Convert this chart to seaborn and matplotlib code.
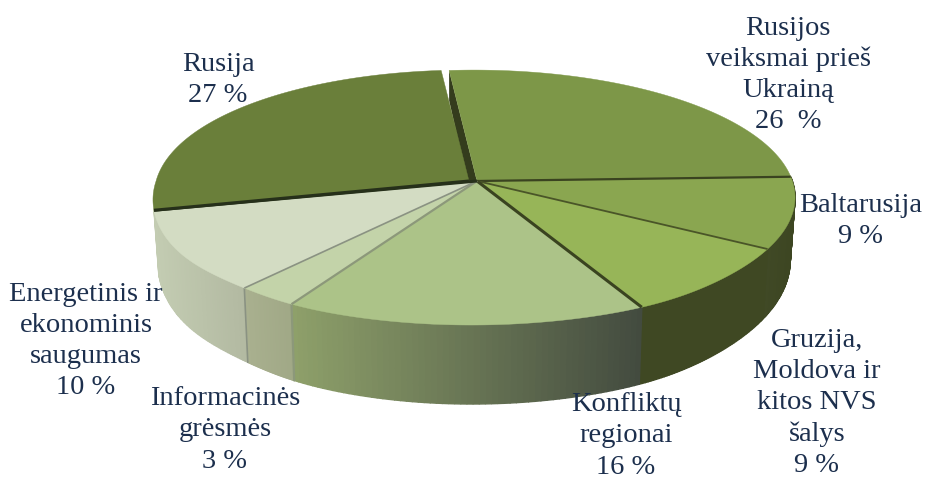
#!/usr/bin/env python3
"""3D-looking pie of threat shares, drawn on a pixel-sized matplotlib axes."""

import matplotlib

matplotlib.use("Agg")

import matplotlib.pyplot as plt
import numpy as np
import seaborn as sns

# ── Data ──────────────────────────────────────────────────────────────────

CATEGORIES = [
    "Rusijos\nveiksmai prieš\nUkrainą",
    "Baltarusija",
    "Gruzija,\nMoldova ir\nkitos NVS\nšalys",
    "Konfliktų\nregionai",
    "Informacinės\ngrėsmės",
    "Energetinis ir\nekonominis\nsaugumas",
    "Rusija",
]
VALUES = [26, 9, 9, 16, 3, 10, 27]
PERCENT_LABELS = ["26  %", "9 %", "9 %", "16 %", "3 %", "10 %", "27 %"]

# ── Style ─────────────────────────────────────────────────────────────────

TOP_COLORS = ["#7d9748", "#8aa650", "#97b558", "#acc388", "#c3d3a9", "#d3dcc3", "#6a7f3a"]
WALL_COLORS = [
    ("#3d4622", "#3d4622"),
    ("#404926", "#3d4622"),
    ("#3f4823", "#3f4823"),
    ("#8ea06a", "#434b3f"),
    ("#a9b08f", "#a0a886"),
    ("#c3ccb2", "#b2b9a1"),
    ("#6a7f3a", "#6a7f3a"),
]
EDGE_COLORS = ["#3a4320", "#4a5528", "#3a4320", "#8c987a", "#8a9282", "#26301a", "#3a4320"]
EDGE_WIDTHS = [1.6, 1.3, 2.2, 1.6, 1.2, 2.2, 1.6]
TEXT_COLOR = "#1c2f4d"

LABEL_POS = [(788, 75), (861, 221), (817, 403), (626, 436), (225, 430), (86, 341), (218, 80)]

START_ANGLE = -5.1
CX, CY = 474, 180
HUB = (477, 181)
RUSIA_HUB = (469, 181)
RX, RY, PERSP = 318, 125, 0.137
RUSIA_DX = -8


def rim(theta):
    """Top rim pixel position for clockwise angles (deg from 12 o'clock)."""
    theta = np.asarray(theta, dtype=float)
    t = np.radians(theta)
    den = 1 + PERSP * np.cos(t)
    # hand fitted corrections, the source perspective is not quite a plain one
    x = CX + RX * np.sin(t) / den
    x = x + 5 * np.exp(-(((theta - 153) / 15) ** 2)) + 6 * np.exp(-(((theta - 222) / 12) ** 2))
    y = CY - RY * np.cos(t) / den + 5 * np.exp(-(((theta - 235) / 30) ** 2))
    return x, y


def base_rim(theta):
    """Bottom rim: same curve, a bit narrower, pushed down more at the front."""
    x, y = rim(theta)
    depth = 60 + 19 * -np.cos(np.radians(theta))
    return CX + (x - CX) * 0.985, y + depth


def draw_wall(ax, a0, a1, colors):
    """Side wall of one slice as thin strips, so it can carry a gradient."""
    cmap = sns.blend_palette(list(colors), as_cmap=True)
    edges = np.linspace(a0, a1, 61)
    xs = rim(edges)[0]
    lo, hi = min(xs[0], xs[-1]), max(xs[0], xs[-1])
    for p, q in zip(edges[:-1], edges[1:]):
        pair = np.array([p, q])
        tx, ty = rim(pair)
        bx, by = base_rim(pair)
        shade = cmap((0.5 * (tx[0] + tx[1]) - lo) / (hi - lo))
        ax.fill([tx[0], tx[1], bx[1], bx[0]], [ty[0], ty[1], by[1], by[0]],
                color=shade, lw=1.0, zorder=2)


def main():
    sns.set_theme(style="white")
    plt.rcParams["font.family"] = ["Liberation Serif", "DejaVu Serif"]

    fig = plt.figure(figsize=(9.25, 4.82), dpi=100)
    ax = fig.add_axes([0, 0, 1, 1])
    ax.set_xlim(0, 925)
    ax.set_ylim(482, 0)
    ax.axis("off")

    bounds = START_ANGLE + np.concatenate([[0], np.cumsum(VALUES)]) * 3.6

    # walls first, only the front facing ones show
    for i in range(1, 6):
        draw_wall(ax, bounds[i], bounds[i + 1], WALL_COLORS[i])
    for i in range(3, 5):
        x0, y0 = rim(bounds[i + 1])
        x1, y1 = base_rim(bounds[i + 1])
        ax.plot([x0, x1], [y0, y1], color=EDGE_COLORS[i], lw=EDGE_WIDTHS[i], zorder=3)

    # dark inner face seen through the gap next to the pulled out slice
    sx, sy = rim(bounds[0])
    ax.fill([sx, HUB[0], HUB[0] - 10, sx], [sy, HUB[1], HUB[1], sy + 30],
            color="#343c1d", lw=0, zorder=4)

    # top faces
    for i, color in enumerate(TOP_COLORS):
        arc = np.linspace(bounds[i], bounds[i + 1], 120)
        x, y = rim(arc)
        hub = HUB
        if i == 6:
            x = x + RUSIA_DX * np.clip(np.cos(np.radians(arc)), 0, 1)
            hub = RUSIA_HUB
        ax.fill(np.r_[hub[0], x], np.r_[hub[1], y], color=color, lw=0.3, zorder=5 if i != 6 else 6)

    # separators between the slices
    for i in range(1, 7):
        x, y = rim(bounds[i])
        ax.plot([HUB[0], x], [HUB[1], y], color=EDGE_COLORS[i - 1], lw=EDGE_WIDTHS[i - 1],
                solid_capstyle="butt", zorder=5.5)
    x, y = rim(bounds[6])
    ax.plot([RUSIA_HUB[0], x], [RUSIA_HUB[1], y], color=EDGE_COLORS[5],
            lw=EDGE_WIDTHS[5], solid_capstyle="butt", zorder=7)

    for cat, pct, (px, py) in zip(CATEGORIES, PERCENT_LABELS, LABEL_POS):
        ax.text(px, py, f"{cat}\n{pct}", ha="center", va="center", fontsize=20.5,
                color=TEXT_COLOR, linespacing=1.32, zorder=10)

    fig.savefig("out.png", dpi=100)
    plt.close(fig)


if __name__ == "__main__":
    main()
